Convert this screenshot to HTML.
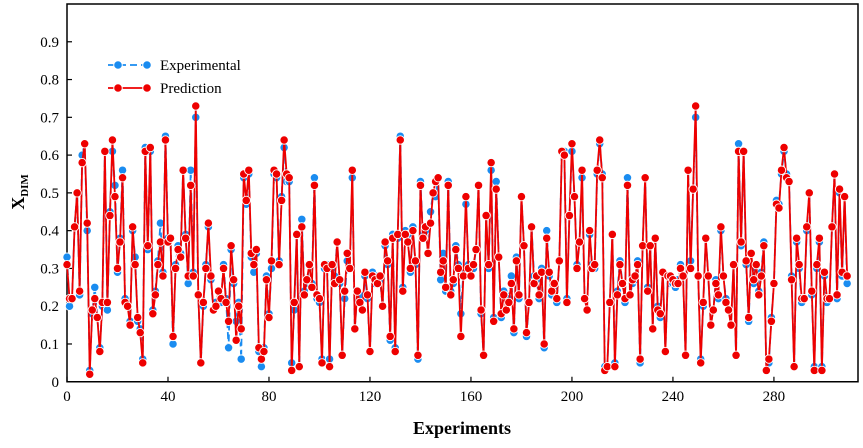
<!DOCTYPE html>
<html><head><meta charset="utf-8"><style>
body{margin:0;background:#fff;}
svg{display:block;font-family:"Liberation Serif",serif;}
</style></head><body>
<svg id="chart" width="863" height="448" viewBox="0 0 863 448" xmlns="http://www.w3.org/2000/svg">
<g id="axes"></g>
<g id="series"></g>
<g id="legend">
  <line x1="108" y1="65" x2="150" y2="65" stroke="#1a8cf0" stroke-width="1.8" stroke-dasharray="7,4"/>
  <circle cx="118" cy="65" r="4.3" fill="#1a8cf0" stroke="#fff" stroke-width="1"/>
  <circle cx="147" cy="65" r="4.3" fill="#1a8cf0" stroke="#fff" stroke-width="1"/>
  <text x="160" y="70" font-size="15">Experimental</text>
  <line x1="108" y1="88" x2="150" y2="88" stroke="#ee0000" stroke-width="1.8"/>
  <circle cx="118" cy="88" r="4.3" fill="#ee0000" stroke="#fff" stroke-width="1"/>
  <circle cx="147" cy="88" r="4.3" fill="#ee0000" stroke="#fff" stroke-width="1"/>
  <text x="160" y="93" font-size="15">Prediction</text>
</g>
</svg>
<script>
const xTicks=[0,40,80,120,160,200,240,280];
const yTicks=[0,0.1,0.2,0.3,0.4,0.5,0.6,0.7,0.8,0.9];
const yTickLabels=["0","0.1","0.2","0.3","0.4","0.5","0.6","0.7","0.8","0.9"];
const prediction=[
.31,.22,.22,.41,.50,.24,.58,.63,.42,.02,
.19,.22,.17,.08,.21,.61,.21,.44,.64,.49,
.30,.37,.54,.21,.20,.15,.41,.31,.17,.13,
.05,.61,.36,.62,.18,.23,.31,.37,.28,.64,
.37,.38,.12,.30,.35,.33,.56,.38,.28,.52,
.28,.73,.23,.05,.21,.30,.42,.28,.19,.20,
.24,.22,.30,.21,.16,.36,.27,.11,.20,.14,
.55,.48,.56,.34,.31,.35,.09,.06,.08,.27,
.17,.32,.56,.55,.31,.48,.64,.55,.54,.03,
.21,.39,.04,.41,.23,.27,.31,.25,.52,.23,
.22,.05,.31,.30,.04,.31,.26,.37,.27,.07,
.24,.34,.30,.56,.14,.24,.21,.19,.29,.23,
.08,.28,.27,.26,.28,.20,.37,.32,.12,.38,
.08,.39,.64,.24,.39,.37,.30,.40,.32,.07,
.52,.38,.41,.34,.42,.50,.53,.54,.29,.32,
.25,.52,.23,.27,.35,.30,.12,.28,.49,.30,
.28,.31,.35,.52,.19,.07,.44,.31,.58,.16,
.51,.33,.18,.23,.19,.21,.26,.14,.32,.23,
.49,.36,.13,.21,.41,.26,.28,.23,.29,.10,
.38,.29,.24,.26,.22,.32,.61,.60,.21,.44,
.63,.49,.30,.37,.56,.22,.19,.40,.30,.31,
.56,.64,.54,.03,.04,.21,.39,.04,.23,.31,
.26,.22,.52,.23,.27,.28,.31,.06,.36,.54,
.24,.36,.14,.38,.19,.18,.29,.08,.28,.28,
.27,.26,.26,.30,.28,.07,.56,.30,.51,.73,
.28,.05,.21,.38,.28,.15,.19,.26,.23,.41,
.28,.21,.19,.15,.31,.07,.61,.37,.61,.32,
.17,.34,.27,.31,.23,.28,.36,.03,.06,.16,
.26,.47,.46,.56,.62,.54,.53,.27,.04,.38,
.31,.22,.22,.41,.50,.24,.03,.31,.38,.03,
.29,.22,.22,.41,.55,.23,.51,.29,.49,.28];
const experimental=[
.33,.20,.22,.41,.50,.23,.60,.63,.40,.03,
.18,.25,.17,.09,.20,.61,.19,.45,.61,.52,
.29,.38,.56,.22,.20,.16,.40,.33,.16,.14,
.06,.62,.35,.61,.19,.24,.32,.42,.29,.65,
.38,.38,.10,.31,.36,.34,.56,.39,.26,.56,
.29,.70,.23,.05,.20,.31,.41,.27,.19,.21,
.24,.21,.31,.22,.09,.35,.26,.16,.21,.06,
.54,.47,.55,.33,.29,.34,.08,.04,.09,.28,
.18,.30,.55,.54,.32,.49,.62,.53,.53,.05,
.19,.39,.04,.43,.24,.26,.31,.26,.54,.22,
.21,.06,.30,.31,.06,.30,.28,.37,.26,.07,
.22,.32,.30,.54,.14,.24,.23,.19,.28,.22,
.08,.29,.26,.28,.27,.20,.36,.31,.11,.39,
.09,.38,.65,.25,.40,.39,.29,.41,.31,.06,
.53,.39,.40,.34,.45,.50,.49,.54,.27,.34,
.24,.53,.24,.26,.36,.31,.18,.29,.47,.31,
.29,.30,.35,.52,.18,.07,.44,.30,.56,.17,
.53,.33,.17,.24,.19,.22,.28,.13,.33,.22,
.49,.36,.12,.21,.41,.28,.27,.22,.30,.09,
.40,.28,.23,.25,.21,.32,.61,.61,.22,.44,
.61,.49,.31,.37,.54,.22,.19,.39,.31,.30,
.55,.63,.55,.04,.04,.21,.39,.05,.24,.32,
.26,.21,.54,.23,.26,.27,.32,.05,.36,.54,
.25,.36,.14,.38,.20,.17,.29,.08,.28,.26,
.26,.25,.27,.31,.28,.07,.56,.32,.51,.70,
.28,.06,.20,.38,.28,.15,.19,.27,.22,.40,
.28,.22,.19,.15,.31,.07,.63,.36,.61,.31,
.16,.34,.26,.30,.24,.29,.37,.03,.05,.17,
.26,.48,.47,.55,.61,.55,.53,.28,.04,.37,
.30,.21,.22,.40,.50,.23,.04,.30,.37,.04,
.28,.21,.22,.41,.55,.22,.50,.28,.49,.26];
const L=67,R=858,T=4,B=381.75,XMAX=313.3;
const xs=v=>L+(v/XMAX)*(R-L);
const ys=v=>B-v*(B-T);
const NS="http://www.w3.org/2000/svg";
function mk(tag,attrs,parent){const e=document.createElementNS(NS,tag);for(const k in attrs)e.setAttribute(k,attrs[k]);parent.appendChild(e);return e;}
const ax=document.getElementById('axes');
const frame=mk('rect',{x:L,y:T,width:R-L,height:B-T,fill:'none',stroke:'#000','stroke-width':1.5},ax);


yTicks.forEach((t,i)=>{
  const y=ys(t);
  const tk=mk('line',{x1:L,x2:L+5,y1:y,y2:y,stroke:'#000','stroke-width':1.2},ax);
  
  
  const lb=mk('text',{x:L-8,y:y+5,'text-anchor':'end','font-size':15},ax);
  lb.textContent=yTickLabels[i];
  
  
});
xTicks.forEach(t=>{
  const x=xs(t);
  const tk=mk('line',{x1:x,x2:x,y1:B,y2:B-5,stroke:'#000','stroke-width':1.2},ax);
  
  
  const lb=mk('text',{x:x,y:B+19,'text-anchor':'middle','font-size':15},ax);
  lb.textContent=String(t);
  
  
});
const xt=mk('text',{x:462,y:434,'text-anchor':'middle','font-size':18,'font-weight':'bold'},ax);
xt.textContent='Experiments';


const yt=mk('text',{transform:'translate(24,192) rotate(-90)','text-anchor':'middle','font-size':18,'font-weight':'bold'},ax);
yt.innerHTML='X<tspan font-size="11" dy="4">DIM</tspan>';


const sg=document.getElementById('series');
function drawSeries(data,color,dash,name){
  const g=mk('g',{},sg);
  
  
  const pts=data.map((v,i)=>xs(i)+','+ys(v)).join(' ');
  const pl=mk('polyline',{points:pts,fill:'none',stroke:color,'stroke-width':1.8,'stroke-dasharray':dash},g);
  
  
  data.forEach((v,i)=>{
    const c=mk('circle',{cx:xs(i),cy:ys(v),r:4.2,fill:color,stroke:'#fff','stroke-width':0.9},g);
    
    
  });
}
drawSeries(experimental,'#1a8cf0','7,4','experimental');
drawSeries(prediction,'#ee0000','none','prediction');
</script>
</body></html>
